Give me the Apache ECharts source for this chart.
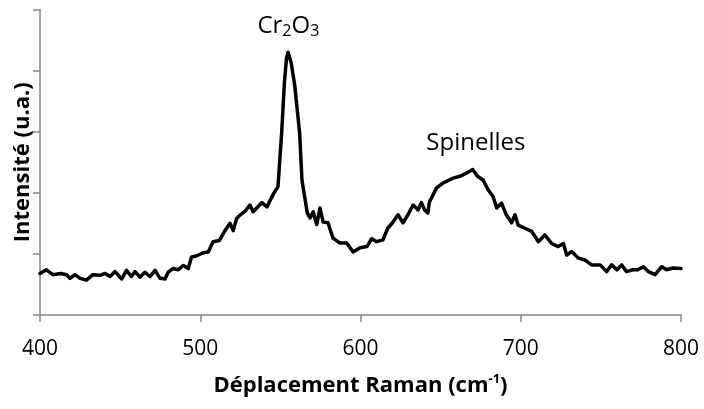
<!DOCTYPE html>
<html>
<head>
<meta charset="utf-8">
<script src="https://cdn.jsdelivr.net/npm/echarts@6/dist/echarts.min.js"></script>
<style>
  html, body { margin: 0; padding: 0; background: #fff; }
  #chart { width: 704px; height: 409px; }
</style>
</head>
<body>
<div id="chart"></div>
<script>
// Raman shift (cm-1) and measured intensity (a.u.)
const ramanShift = [
  400, 404, 408, 413, 416.6, 418.7, 421.8, 425, 429, 433, 437.4, 440.6, 443.7, 446.8,
  451, 454, 457, 459.3, 462.4, 465.5, 468.6, 471.8, 474.9, 478, 480, 483, 486.3, 489.4,
  492.5, 494.6, 497.8, 502, 505, 508, 512, 515.4, 518.6, 520.5, 522.7, 525, 528, 531,
  533, 538.5, 541.6, 545.4, 548.5, 550.8, 552.5, 553.8, 554.8, 555.8, 556.8, 559, 562, 563.5,
  566.8, 568.5, 570.5, 572.7, 574.7, 576.7, 579.7, 582.8, 587, 591.4, 595.4, 599.7,
  604, 607, 610, 614, 617, 620, 623.4, 626.5, 629.6, 632.8, 636, 638, 640, 642, 643,
  647.5, 651.5, 657.8, 662, 666, 670, 673, 676.5, 679.6, 682.7, 685, 688, 691, 694.3,
  696.4, 698.4, 702.6, 706.8, 711, 715, 719.3, 723.4, 726.6, 728.7, 731.8, 736, 740,
  744.3, 749.5, 753.6, 756.7, 760, 763, 766, 770, 773, 776.5, 779.6, 783.8, 788, 791,
  795, 800
];
const intensity = [
  0.68, 0.74, 0.66, 0.68, 0.66, 0.60, 0.66, 0.60, 0.57, 0.66, 0.65, 0.68, 0.63, 0.71,
  0.59, 0.73, 0.63, 0.71, 0.62, 0.70, 0.63, 0.73, 0.60, 0.59, 0.70, 0.76, 0.74, 0.81,
  0.76, 0.95, 0.97, 1.02, 1.03, 1.20, 1.22, 1.38, 1.50, 1.38, 1.58, 1.64, 1.70, 1.80,
  1.69, 1.84, 1.77, 1.97, 2.10, 2.98, 3.80, 4.20, 4.30, 4.28, 4.12, 3.75, 2.98, 2.20,
  1.67, 1.59, 1.69, 1.48, 1.75, 1.52, 1.51, 1.26, 1.18, 1.18, 1.03, 1.10,
  1.12, 1.25, 1.20, 1.23, 1.42, 1.51, 1.64, 1.51, 1.64, 1.80, 1.72, 1.84, 1.72, 1.67, 1.85,
  2.08, 2.16, 2.24, 2.27, 2.32, 2.38, 2.27, 2.21, 2.05, 1.94, 1.75, 1.83, 1.64, 1.51,
  1.64, 1.47, 1.42, 1.37, 1.20, 1.31, 1.17, 1.12, 1.17, 0.98, 1.04, 0.93, 0.90,
  0.82, 0.82, 0.71, 0.82, 0.74, 0.82, 0.71, 0.74, 0.74, 0.79, 0.71, 0.66, 0.79, 0.74,
  0.77, 0.76
];

// Axis ticks
const xTicks = [400, 500, 600, 700, 800];
const yTicks = [0, 1, 2, 3, 4, 5];

// Peak labels: name, shift, label height
const peakNames = ['Cr2O3', 'Spinelles'];
const peakShift = [555, 672];
const peakLabelY = [4.72, 2.82];

const FONT = '"Open Sans", "Liberation Sans", sans-serif';
const AXIS_GRAY = '#868686';

const points = ramanShift.map((x, i) => [x, intensity[i]]);

const peakMarks = peakNames.map((name, i) => ({
  name: name,
  coord: [peakShift[i], peakLabelY[i]],
  value: name
}));

const chart = echarts.init(document.getElementById('chart'), null, { renderer: 'canvas' });

chart.setOption({
  animation: false,
  backgroundColor: '#ffffff',
  grid: { left: 40, right: 23, top: 9.5, bottom: 94, containLabel: false },
  xAxis: {
    type: 'value',
    min: xTicks[0],
    max: xTicks[xTicks.length - 1],
    interval: 100,
    splitLine: { show: false },
    axisLine: { show: true, onZero: false, lineStyle: { color: AXIS_GRAY, width: 1.5 } },
    axisTick: { show: true, inside: false, length: 7, lineStyle: { color: AXIS_GRAY, width: 1.5 } },
    axisLabel: { color: '#000', fontFamily: FONT, fontSize: 21, margin: 24 },
    name: '{t|Déplacement Raman (cm}{s|-1}{t|)}',
    nameLocation: 'middle',
    nameGap: 58,
    nameTextStyle: {
      rich: {
        t: { fontFamily: FONT, fontWeight: 'bold', fontSize: 22, color: '#000' },
        s: { fontFamily: FONT, fontWeight: 'bold', fontSize: 13, color: '#000', verticalAlign: 'top', padding: [0, 0, 12, 0] }
      }
    }
  },
  yAxis: {
    type: 'value',
    min: yTicks[0],
    max: yTicks[yTicks.length - 1],
    interval: 1,
    splitLine: { show: false },
    axisLine: { show: true, lineStyle: { color: AXIS_GRAY, width: 1.5 } },
    axisTick: { show: true, inside: false, length: 7, lineStyle: { color: AXIS_GRAY, width: 1.5 } },
    axisLabel: { show: false },
    name: 'Intensité (u.a.)',
    nameLocation: 'middle',
    nameGap: 6,
    nameTextStyle: { fontFamily: FONT, fontWeight: 'bold', fontSize: 22, color: '#000' }
  },
  series: [{
    type: 'line',
    data: points,
    showSymbol: false,
    symbol: 'none',
    lineStyle: { color: '#000', width: 3.5, join: 'round', cap: 'round' },
    silent: true,
    markPoint: {
      symbol: 'circle',
      symbolSize: 0,
      silent: true,
      label: {
        show: true,
        position: 'inside',
        color: '#000',
        formatter: p => p.name === 'Cr2O3'
          ? '{n|Cr}{b|2}{n|O}{b|3}'
          : '{n|Spinelles}',
        rich: {
          n: { fontFamily: FONT, fontSize: 24, color: '#000' },
          b: { fontFamily: FONT, fontSize: 16, color: '#000', verticalAlign: 'bottom', padding: [10, 0, 0, 0] }
        }
      },
      data: peakMarks
    }
  }]
});
</script>
</body>
</html>
